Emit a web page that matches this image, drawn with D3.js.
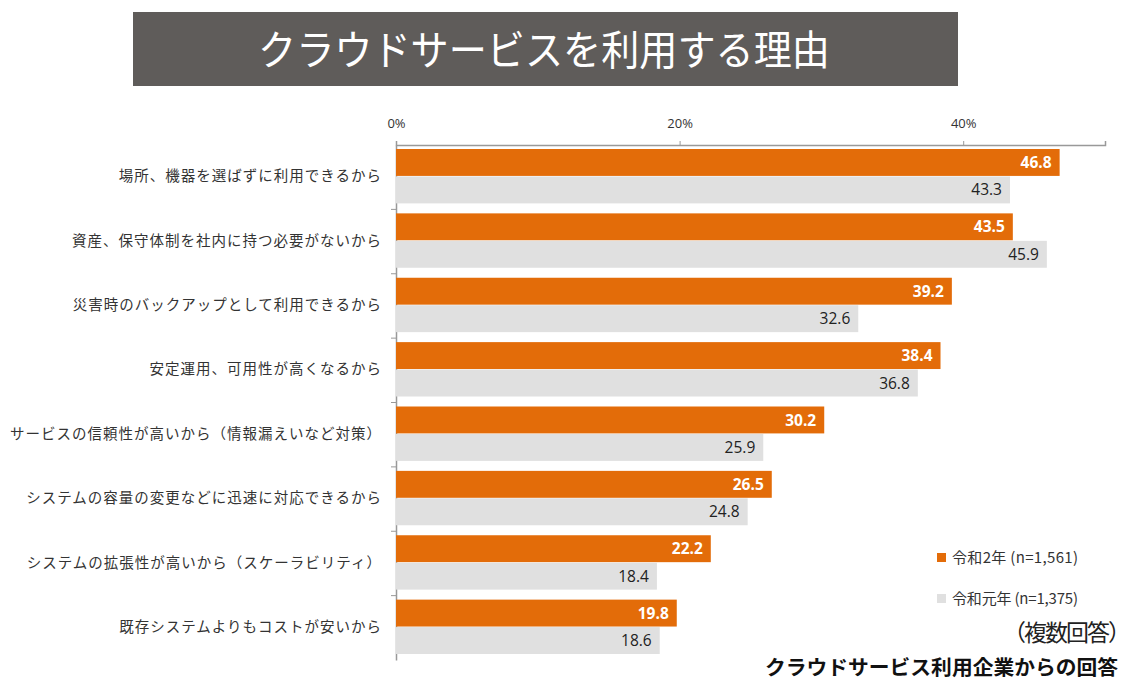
<!DOCTYPE html>
<html>
<head>
<meta charset="utf-8">
<script src="https://cdn.jsdelivr.net/npm/d3@7"></script>
<style>
  body { margin: 0; background: #fff; }
  svg { font-family: "Noto Sans CJK JP", "Noto Sans", sans-serif; }
</style>
</head>
<body>
<svg width="1140" height="683"></svg>
<script>
const categories = [
    '場所、機器を選ばずに利用できるから',
    '資産、保守体制を社内に持つ必要がないから',
    '災害時のバックアップとして利用できるから',
    '安定運用、可用性が高くなるから',
    'サービスの信頼性が高いから（情報漏えいなど対策）',
    'システムの容量の変更などに迅速に対応できるから',
    'システムの拡張性が高いから（スケーラビリティ）',
    '既存システムよりもコストが安いから'
];
const r2 = [46.8, 43.5, 39.2, 38.4, 30.2, 26.5, 22.2, 19.8];
const r1 = [43.3, 45.9, 32.6, 36.8, 25.9, 24.8, 18.4, 18.6];
const seriesNames = ['令和2年 (n=1,561)', '令和元年 (n=1,375)'];
const tickValues = [0, 20, 40];

const svg = d3.select('svg');
const orange = '#e36c09';
const grey = '#e0e0e0';

// Title box
svg.append('rect')
    .attr('x', 133).attr('y', 12)
    .attr('width', 825).attr('height', 74)
    .attr('fill', '#5f5c5a');
svg.append('text')
    .attr('x', 258).attr('y', 65)
    .attr('textLength', 572)
    .attr('lengthAdjust', 'spacingAndGlyphs')
    .attr('fill', '#fff')
    .style('font-size', '41px')
    .text('クラウドサービスを利用する理由');

const x = d3.scaleLinear().domain([0, 50]).range([396, 1105]);
const y = d3.scaleBand().domain(categories).range([145, 660]);
const inner = d3.scaleBand().domain(['r2', 'r1']).range([4, y.bandwidth() - 6]).paddingInner(0.02);

// Top axis
const xAxis = svg.append('g')
    .attr('transform', 'translate(0,145)')
    .call(d3.axisTop(x).tickValues(tickValues).tickSize(4).tickFormat(d => d + '%'));
xAxis.select('.domain').attr('stroke', '#999').attr('stroke-width', 1.5);
xAxis.selectAll('.tick line').attr('stroke', '#999');
xAxis.selectAll('.tick text')
    .attr('fill', '#333')
    .attr('dy', '-0.75em')
    .style('font-size', '13px')
    .style('font-family', '"Open Sans", "Noto Sans", sans-serif');

// Left axis
const yAxis = svg.append('g')
    .attr('transform', 'translate(396,0)')
    .call(d3.axisLeft(y).tickSize(0).tickFormat(''));
yAxis.select('.domain').attr('stroke', '#999').attr('stroke-width', 1.5);
yAxis.selectAll('.tick').remove();
yAxis.selectAll('.sep')
    .data(categories.slice(1))
    .enter()
    .append('line')
    .attr('x1', -5).attr('x2', 0)
    .attr('y1', d => y(d)).attr('y2', d => y(d))
    .attr('stroke', '#999');

// Category labels
svg.append('g')
    .selectAll('text')
    .data(categories)
    .enter()
    .append('text')
    .attr('x', 382)
    .attr('y', d => y(d) + y.bandwidth() / 2 - 1)
    .attr('dy', '0.35em')
    .attr('text-anchor', 'end')
    .attr('fill', '#333')
    .style('font-size', '14.5px')
    .style('letter-spacing', '1px')
    .text(d => d);

const rows = categories.map((c, i) => ({ c: c, r2: r2[i], r1: r1[i] }));

const grp = svg.append('g');
[['r2', orange, '#fff', 'bold'], ['r1', grey, '#222', 'normal']].forEach(function(s) {
    const key = s[0];
    grp.selectAll('.bar-' + key)
        .data(rows)
        .enter()
        .append('rect')
        .attr('class', 'bar-' + key)
        .attr('x', x(0))
        .attr('y', d => y(d.c) + inner(key))
        .attr('width', d => x(d[key]) - x(0))
        .attr('height', inner.bandwidth())
        .attr('fill', s[1]);
    grp.selectAll('.lbl-' + key)
        .data(rows)
        .enter()
        .append('text')
        .attr('x', d => x(d[key]) - 8)
        .attr('y', d => y(d.c) + inner(key) + inner.bandwidth() / 2)
        .attr('dy', '0.36em')
        .attr('text-anchor', 'end')
        .attr('fill', s[2])
        .style('font-weight', s[3])
        .style('font-size', '15.5px')
        .style('font-family', '"Open Sans", "Noto Sans", sans-serif')
        .text(d => d[key].toFixed(1));
});

// Legend
const legend = svg.append('g');
[orange, grey].forEach(function(col, i) {
    legend.append('rect')
        .attr('x', 937).attr('y', 553 + i * 41)
        .attr('width', 9).attr('height', 9)
        .attr('fill', col);
    legend.append('text')
        .attr('x', 952).attr('y', 558 + i * 41)
        .attr('dy', '0.35em')
        .attr('textLength', 126)
        .attr('fill', '#333')
        .style('font-size', '15px')
        .text(seriesNames[i]);
});

svg.append('text')
    .attr('x', 1003).attr('y', 641)
    .attr('textLength', 128)
    .attr('fill', '#222')
    .style('font-size', '23px')
    .text('（複数回答）');

svg.append('text')
    .attr('x', 765).attr('y', 675)
    .attr('textLength', 353)
    .attr('lengthAdjust', 'spacingAndGlyphs')
    .attr('fill', '#111')
    .style('font-size', '20px')
    .style('font-weight', 'bold')
    .text('クラウドサービス利用企業からの回答');
</script>
</body>
</html>
